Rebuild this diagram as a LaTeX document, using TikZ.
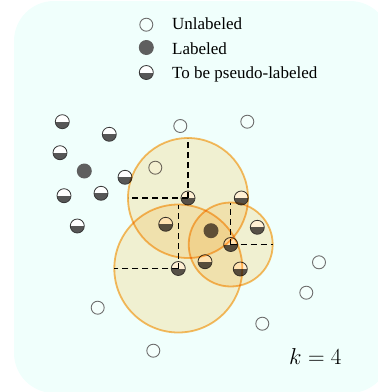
\documentclass[tikz,border=0pt]{standalone}
\usepackage{fix-cm}
\usepackage{fontspec}
\setmainfont{Liberation Serif}
\definecolor{bgc}{RGB}{240,255,252}
\definecolor{zonefill}{RGB}{255,240,212}
\definecolor{zoneline}{RGB}{255,178,72}
\definecolor{labc}{RGB}{95,95,95}
\definecolor{unlc}{RGB}{110,110,110}
\tikzset{
  unl/.style={circle, minimum size=13pt, inner sep=0pt, draw=unlc, line width=0.9pt, fill=white, fill opacity=0.3},
  lab/.style={circle, minimum size=15pt, inner sep=0pt, fill=labc},
  pse/.style={circle, minimum size=14pt, inner sep=0pt, draw=black!78, line width=0.8pt, fill=white,
    path picture={\fill[black!66] (path picture bounding box.west) rectangle (path picture bounding box.south east);}},
  zone/.style={draw=zoneline, draw opacity=0.85, line width=1.8pt, fill=zonefill},
  radline/.style={black, line width=1.2pt, dash pattern=on 6pt off 4pt},
  legtext/.style={anchor=base west, font=\fontsize{17}{20}\selectfont, inner sep=0pt}
}
\begin{document}
\begin{tikzpicture}[x=1pt, y=-1pt]
\useasboundingbox (0,0) rectangle (378,392);
\fill[bgc, rounded corners=40pt] (14,1) rectangle (390,393);

% legend
\node[unl] (lgU) at (146.3,24.7) {};
\node[lab] (lgL) at (146.3,47.5) {};
\node[pse] (lgP) at (146.3,72.5) {};
\node[legtext] (tU) at (172,29.5) {Unlabeled};
\node[legtext] (tL) at (172,54) {Labeled};
\node[legtext] (tP) at (172,78.5) {To be pseudo-labeled};

% unlabeled samples
\node[unl] (u1) at (180.3,126) {};
\node[unl] (u2) at (247.3,121.7) {};
\node[unl] (u3) at (155.3,167.7) {};
\node[unl] (u4) at (319,262.3) {};
\node[unl] (u5) at (306.3,292.7) {};
\node[unl] (u6) at (262.3,323.7) {};
\node[unl] (u7) at (97.7,307.7) {};
\node[unl] (u8) at (153.3,350.7) {};

% labeled samples
\node[lab] (l1) at (84.3,171) {};
\node[lab] (l2) at (211,230.7) {};

% samples to be pseudo-labeled
\node[pse] (p1) at (62.3,121.7) {};
\node[pse] (p2) at (109.3,134.3) {};
\node[pse] (p3) at (60,152.7) {};
\node[pse] (p4) at (125,177.3) {};
\node[pse] (p5) at (64,195.7) {};
\node[pse] (p6) at (101,193.3) {};
\node[pse] (p7) at (77.3,226) {};
\node[pse] (p8) at (188,198) {};
\node[pse] (p9) at (241.3,198) {};
\node[pse] (p10) at (165.7,224.3) {};
\node[pse] (p11) at (257.3,227.3) {};
\node[pse] (p12) at (230.7,244.5) {};
\node[pse] (p13) at (205,261.7) {};
\node[pse] (p14) at (240.3,269) {};
\node[pse] (p15) at (178.3,268.5) {};

% k-nearest neighbourhoods, tinting whatever lies beneath
\begin{scope}[blend mode=multiply]
\draw[zone] (p8.center) circle[radius=60pt];
\draw[zone] (p15.center) circle[radius=64pt];
\draw[zone] (p12.center) circle[radius=42pt];
\end{scope}

% radii
\coordinate (r8t) at (188,138);
\coordinate (r8l) at (128,198);
\coordinate (r15t) at (178.3,204.5);
\coordinate (r15l) at (114.3,268.5);
\coordinate (r12t) at (230.7,202.5);
\coordinate (r12r) at (272.7,244.5);
\draw[radline] (p8.center) -- (r8t);
\draw[radline] (p8.center) -- (r8l);
\draw[radline] (p15.center) -- (r15t);
\draw[radline] (p15.center) -- (r15l);
\draw[radline] (p12.center) -- (r12t);
\draw[radline] (p12.center) -- (r12r);

\node[anchor=base west, inner sep=0pt, font=\fontsize{23}{28}\selectfont] (kval) at (289,364) {$k=4$};
\end{tikzpicture}
\end{document}
